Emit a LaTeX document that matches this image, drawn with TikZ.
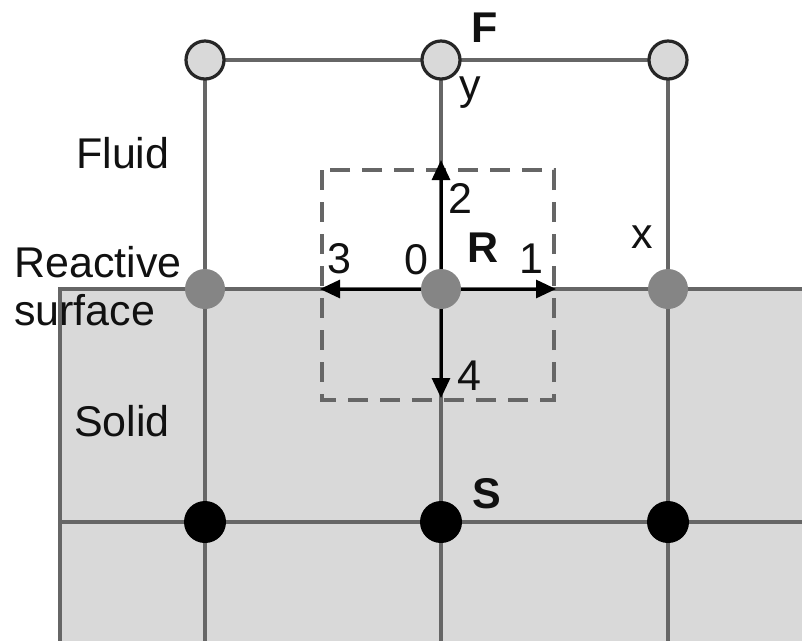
\documentclass[tikz,border=0pt]{standalone}
\usepackage{fontspec}
\setmainfont{Liberation Sans}
\usetikzlibrary{arrows.meta}
\definecolor{solidfill}{HTML}{D9D9D9}
\definecolor{gline}{HTML}{666666}
\definecolor{surfnode}{HTML}{858585}
\definecolor{txt}{HTML}{111111}
\tikzset{
  gridline/.style={draw=gline, line width=3.2pt},
  fluidnode/.style={circle, fill=solidfill, draw=black!85, line width=3.2pt, minimum size=38pt, inner sep=0pt},
  surfnodestyle/.style={circle, fill=surfnode, minimum size=40pt, inner sep=0pt},
  solidnode/.style={circle, fill=black, minimum size=42pt, inner sep=0pt},
  boxline/.style={draw=gline, line width=3.4pt, dash pattern=on 20pt off 12pt},
  arr/.style={draw=black, line width=3pt, -{Triangle[length=20pt,width=18pt]}},
  lbl/.style={anchor=base west, inner sep=0pt, text=txt, font=\fontsize{43}{48}\selectfont},
  blbl/.style={lbl, font=\fontsize{43}{48}\selectfont\bfseries}
}
\begin{document}
\begin{tikzpicture}[x=1pt,y=-1pt]
\useasboundingbox (0,0) rectangle (802,641);
% solid region
\fill[solidfill] (60,289) rectangle (802,641);
% coordinates
\coordinate (t1) at (205,60);
\coordinate (t2) at (441,60);
\coordinate (t3) at (668,60);
\coordinate (m1) at (205,289);
\coordinate (m2) at (441,289);
\coordinate (m3) at (668,289);
\coordinate (b1) at (205,522);
\coordinate (b2) at (441,522);
\coordinate (b3) at (668,522);
\coordinate (e1) at (205,641);
\coordinate (e2) at (441,641);
\coordinate (e3) at (668,641);
\coordinate (sl) at (60,289);
\coordinate (sr) at (802,289);
\coordinate (sb) at (60,641);
\coordinate (hl) at (60,522);
\coordinate (hr) at (802,522);
% grid lines
\draw[gridline] (t1) -- (t3);
\draw[gridline] (t1) -- (e1);
\draw[gridline] (t2) -- (e2);
\draw[gridline] (t3) -- (e3);
\draw[gridline] (sr) -- (sl) -- (sb);
\draw[gridline] (hl) -- (hr);
% dashed box
\draw[boxline] (322,170) rectangle (554,400);
% nodes
\node[fluidnode] (f1) at (t1) {};
\node[fluidnode] (f2) at (t2) {};
\node[fluidnode] (f3) at (t3) {};
\node[surfnodestyle] (r1) at (m1) {};
\node[surfnodestyle] (r0) at (m2) {};
\node[surfnodestyle] (r3) at (m3) {};
\node[solidnode] (s1) at (b1) {};
\node[solidnode] (s0) at (b2) {};
\node[solidnode] (s3) at (b3) {};
% arrows
\coordinate (a1) at (556,289);
\coordinate (a2) at (441,160);
\coordinate (a3) at (320,289);
\coordinate (a4) at (441,398);
\draw[arr] (r0) -- (a1);
\draw[arr] (r0) -- (a2);
\draw[arr] (r0) -- (a3);
\draw[arr] (r0) -- (a4);
% labels
\node[blbl] (lF) at (471,42) {F};
\node[lbl] (ly) at (459,99) {y};
\node[lbl] (lfluid) at (76,168) {Fluid};
\node[lbl] (l2) at (448,213) {2};
\node[blbl] (lR) at (467,262) {R};
\node[lbl] (l0) at (404,274) {0};
\node[lbl] (l1) at (519,273) {1};
\node[lbl] (l3) at (327,273) {3};
\node[lbl] (lx) at (631,248) {x};
\node[lbl] (lreact) at (14,277) {Reactive};
\node[lbl] (lsurf) at (14,325) {surface};
\node[lbl] (l4) at (457,390) {4};
\node[lbl] (lsolid) at (74,436) {Solid};
\node[blbl] (lS) at (472,508) {S};
\end{tikzpicture}
\end{document}
